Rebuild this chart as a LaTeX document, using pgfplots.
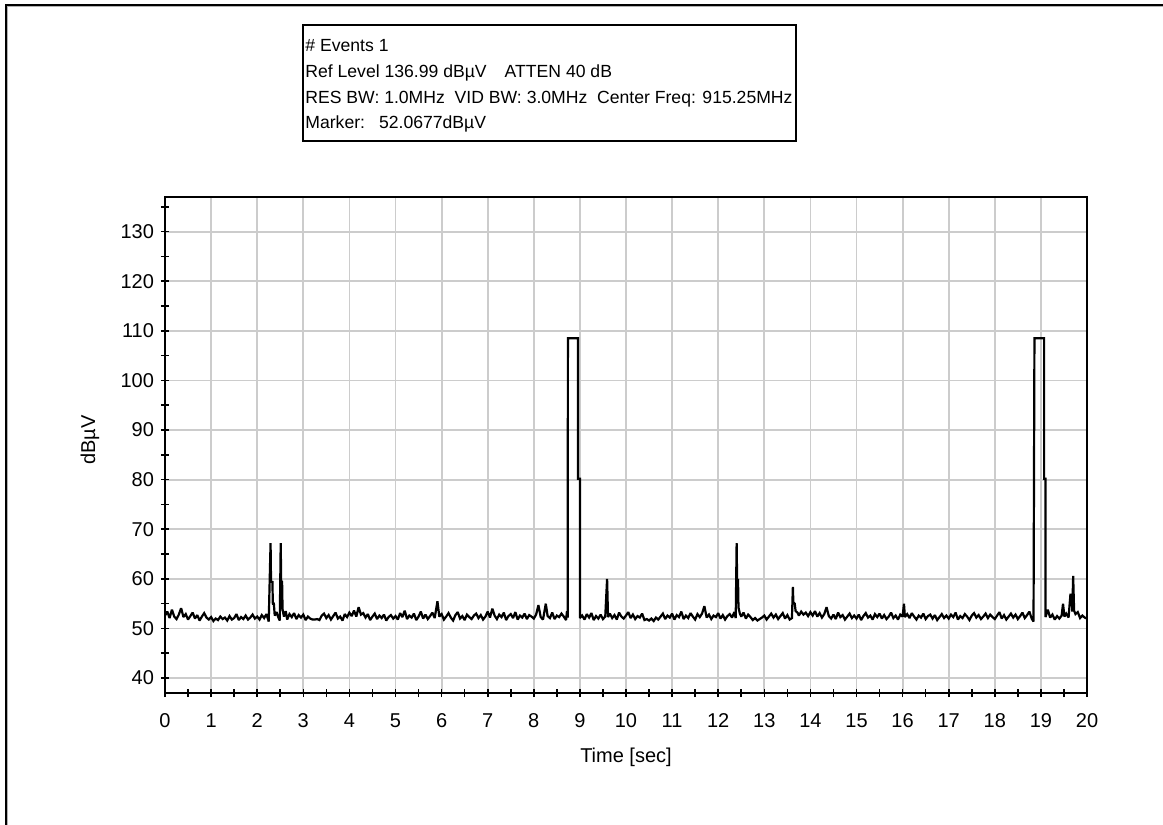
\documentclass[border=0pt]{standalone}
\usepackage{fontspec}
\setmainfont{Liberation Sans}
\usepackage{pgfplots}
\pgfplotsset{compat=1.18}
\usepackage{pgfplotstable}
\pgfplotstableread[row sep=\\]{
t v\\
0.00 52.6\\ 0.05 53.4\\ 0.10 52.1\\ 0.15 53.8\\ 0.20 52.4\\ 0.25 51.9\\ 0.30 52.8\\ 0.35 54.1\\ 0.40 52.3\\ 0.45 52.9\\
0.50 51.8\\ 0.55 52.5\\ 0.60 53.2\\ 0.65 52.0\\ 0.70 52.7\\ 0.75 51.6\\ 0.80 52.4\\ 0.85 53.1\\ 0.90 52.2\\ 0.95 51.8\\
1.00 52.3\\ 1.05 51.5\\ 1.10 52.0\\ 1.15 51.7\\ 1.20 52.4\\ 1.25 51.9\\ 1.30 52.2\\ 1.35 51.6\\ 1.40 52.5\\ 1.45 51.8\\
1.50 52.1\\ 1.55 52.9\\ 1.60 51.7\\ 1.65 52.3\\ 1.70 51.9\\ 1.75 52.6\\ 1.80 51.8\\ 1.85 52.2\\ 1.90 52.8\\ 1.95 52.0\\
2.00 52.4\\ 2.05 51.8\\ 2.10 52.7\\ 2.15 52.1\\ 2.20 52.9\\ 2.25 51.4\\ 2.29 67.2\\ 2.30 59.4\\ 2.33 59.4\\ 2.34 54.8\\
2.36 55.2\\ 2.38 52.6\\ 2.42 53.3\\ 2.46 52.2\\ 2.49 51.6\\ 2.51 67.2\\ 2.52 59.4\\ 2.54 59.4\\ 2.55 53.9\\ 2.58 52.4\\
2.62 53.5\\ 2.65 51.8\\ 2.70 52.9\\ 2.75 52.3\\ 2.80 53.1\\ 2.85 51.9\\ 2.90 52.7\\ 2.95 52.2\\
3.00 52.8\\ 3.05 51.7\\ 3.10 52.4\\ 3.15 52.0\\ 3.20 51.8\\ 3.25 51.8\\ 3.30 51.9\\ 3.35 51.7\\ 3.40 52.6\\ 3.45 53.0\\
3.50 52.1\\ 3.55 52.7\\ 3.60 51.8\\ 3.65 52.5\\ 3.70 53.2\\ 3.75 52.0\\ 3.80 52.4\\ 3.85 51.6\\ 3.90 52.9\\ 3.95 52.3\\
4.00 53.2\\ 4.05 52.5\\ 4.10 53.6\\ 4.15 52.4\\ 4.20 54.3\\ 4.25 52.8\\ 4.30 53.1\\ 4.35 52.2\\ 4.40 52.9\\ 4.45 51.7\\
4.50 52.4\\ 4.55 53.0\\ 4.60 51.9\\ 4.65 52.6\\ 4.70 52.1\\ 4.75 52.8\\ 4.80 51.6\\ 4.85 52.3\\ 4.90 52.7\\ 4.95 52.0\\
5.00 52.5\\ 5.05 51.8\\ 5.10 53.1\\ 5.15 52.3\\ 5.20 53.6\\ 5.25 51.9\\ 5.30 52.6\\ 5.35 52.2\\ 5.40 53.0\\ 5.45 51.7\\
5.50 52.4\\ 5.55 53.4\\ 5.60 52.0\\ 5.65 52.8\\ 5.70 51.9\\ 5.75 52.5\\ 5.80 53.2\\ 5.85 52.1\\ 5.91 55.5\\ 5.95 52.4\\
6.00 52.9\\ 6.05 51.8\\ 6.10 52.4\\ 6.15 53.1\\ 6.20 52.2\\ 6.25 51.6\\ 6.30 52.7\\ 6.35 53.3\\ 6.40 52.0\\ 6.45 52.5\\
6.50 51.7\\ 6.55 52.8\\ 6.60 52.3\\ 6.65 51.9\\ 6.70 52.6\\ 6.75 53.0\\ 6.80 52.1\\ 6.85 52.7\\ 6.90 51.8\\ 6.95 52.4\\
7.00 53.4\\ 7.05 52.2\\ 7.10 54.0\\ 7.15 52.6\\ 7.20 51.9\\ 7.25 52.8\\ 7.30 52.3\\ 7.35 53.2\\ 7.40 51.7\\ 7.45 52.5\\
7.50 52.9\\ 7.55 52.1\\ 7.60 53.3\\ 7.65 51.8\\ 7.70 52.6\\ 7.75 52.2\\ 7.80 53.0\\ 7.85 51.9\\ 7.90 52.7\\ 7.95 52.4\\
8.00 52.0\\ 8.05 52.8\\ 8.10 54.7\\ 8.15 52.3\\ 8.20 51.8\\ 8.26 55.0\\ 8.30 52.5\\ 8.35 52.1\\ 8.40 53.2\\ 8.45 51.9\\
8.50 52.6\\ 8.55 52.3\\ 8.60 53.0\\ 8.65 52.4\\ 8.70 51.7\\ 8.72 53.5\\ 8.735 52.2\\ 8.74 108.5\\ 8.96 108.5\\ 8.96 80.2\\
9.00 80.2\\ 9.00 52.1\\ 9.05 52.6\\ 9.10 51.8\\ 9.15 52.9\\ 9.20 52.2\\ 9.25 53.1\\ 9.30 51.7\\ 9.35 52.5\\ 9.40 52.0\\
9.45 52.8\\ 9.50 51.9\\ 9.55 52.4\\ 9.59 60.0\\ 9.61 52.3\\ 9.65 53.0\\ 9.70 52.1\\ 9.75 52.7\\ 9.80 51.8\\ 9.85 53.2\\
9.90 52.4\\ 9.95 52.0\\
10.00 52.6\\ 10.05 53.3\\ 10.10 52.1\\ 10.15 52.8\\ 10.20 51.9\\ 10.25 52.5\\ 10.30 52.2\\ 10.35 53.0\\ 10.40 51.7\\ 10.45 51.9\\
10.50 51.6\\ 10.55 52.0\\ 10.60 51.5\\ 10.65 52.2\\ 10.70 51.8\\ 10.75 52.4\\ 10.80 53.0\\ 10.85 51.9\\ 10.90 52.6\\ 10.95 52.2\\
11.00 53.0\\ 11.05 51.8\\ 11.10 52.7\\ 11.15 52.3\\ 11.20 53.4\\ 11.25 51.9\\ 11.30 52.6\\ 11.35 52.1\\ 11.40 53.1\\ 11.45 52.4\\
11.50 51.8\\ 11.55 52.9\\ 11.60 52.3\\ 11.65 53.0\\ 11.70 54.5\\ 11.75 52.2\\ 11.80 52.8\\ 11.85 51.9\\ 11.90 52.6\\ 11.95 52.3\\
12.00 53.1\\ 12.05 52.0\\ 12.10 52.7\\ 12.15 51.8\\ 12.20 52.5\\ 12.25 52.9\\ 12.30 52.2\\ 12.35 53.3\\ 12.38 52.1\\ 12.40 67.2\\
12.41 59.8\\ 12.43 59.8\\ 12.44 54.2\\ 12.47 53.0\\ 12.50 52.4\\ 12.55 53.2\\ 12.60 52.0\\ 12.65 52.8\\ 12.70 52.3\\ 12.75 51.7\\
12.80 52.1\\ 12.85 51.6\\ 12.90 51.9\\ 12.95 52.2\\
13.00 52.6\\ 13.05 51.8\\ 13.10 52.4\\ 13.15 53.0\\ 13.20 52.2\\ 13.25 52.8\\ 13.30 51.9\\ 13.35 52.5\\ 13.40 53.1\\ 13.45 52.0\\
13.50 52.7\\ 13.55 51.8\\ 13.60 52.1\\ 13.62 58.4\\ 13.63 55.3\\ 13.66 55.0\\ 13.68 53.5\\ 13.72 53.2\\ 13.75 52.6\\ 13.80 53.4\\
13.85 52.8\\ 13.90 53.2\\ 13.95 52.5\\
14.00 53.3\\ 14.05 52.6\\ 14.10 53.5\\ 14.15 52.4\\ 14.20 53.1\\ 14.25 52.2\\ 14.30 52.9\\ 14.35 54.3\\ 14.40 52.5\\ 14.45 52.0\\
14.50 52.8\\ 14.55 51.9\\ 14.60 53.2\\ 14.65 52.3\\ 14.70 52.7\\ 14.75 51.8\\ 14.80 52.4\\ 14.85 53.0\\ 14.90 52.1\\ 14.95 52.6\\
15.00 52.0\\ 15.05 52.8\\ 15.10 51.7\\ 15.15 52.5\\ 15.20 53.1\\ 15.25 52.2\\ 15.30 52.6\\ 15.35 51.8\\ 15.40 52.9\\ 15.45 52.3\\
15.50 53.0\\ 15.55 52.0\\ 15.60 52.7\\ 15.65 51.9\\ 15.70 52.4\\ 15.75 53.2\\ 15.80 52.1\\ 15.85 52.6\\ 15.90 51.8\\ 15.95 52.8\\
16.00 52.4\\ 16.03 55.0\\ 16.05 52.3\\ 16.10 52.9\\ 16.15 52.1\\ 16.20 53.1\\ 16.25 52.4\\ 16.30 51.8\\ 16.35 52.6\\ 16.40 52.2\\
16.45 53.0\\ 16.50 51.9\\ 16.55 52.5\\ 16.60 52.8\\ 16.65 52.0\\ 16.70 52.7\\ 16.75 51.7\\ 16.80 52.3\\ 16.85 52.9\\ 16.90 52.1\\
16.95 52.6\\
17.00 52.0\\ 17.05 52.8\\ 17.10 52.3\\ 17.15 53.2\\ 17.20 51.8\\ 17.25 52.5\\ 17.30 52.1\\ 17.35 52.9\\ 17.40 52.4\\ 17.45 51.7\\
17.50 52.6\\ 17.55 53.1\\ 17.60 52.2\\ 17.65 52.7\\ 17.70 51.9\\ 17.75 52.4\\ 17.80 53.0\\ 17.85 52.1\\ 17.90 52.8\\ 17.95 52.3\\
18.00 51.9\\ 18.05 52.6\\ 18.10 53.3\\ 18.15 52.0\\ 18.20 52.7\\ 18.25 51.8\\ 18.30 52.4\\ 18.35 53.0\\ 18.40 52.2\\ 18.45 52.8\\
18.50 51.9\\ 18.55 52.5\\ 18.60 53.2\\ 18.65 52.1\\ 18.70 52.7\\ 18.75 53.4\\ 18.80 52.0\\ 18.84 51.4\\ 18.86 108.5\\ 19.07 108.5\\
19.07 80.2\\ 19.10 80.2\\ 19.10 52.3\\ 19.15 53.8\\ 19.20 52.2\\ 19.25 52.8\\ 19.30 51.8\\ 19.35 52.5\\ 19.40 52.0\\ 19.45 52.6\\
19.48 55.0\\ 19.51 52.4\\ 19.55 53.0\\ 19.60 52.2\\ 19.64 56.8\\ 19.67 56.8\\ 19.68 53.4\\ 19.70 60.6\\ 19.72 53.6\\ 19.75 52.9\\
19.80 53.3\\ 19.85 52.1\\ 19.90 52.6\\ 19.95 52.2\\ 20.00 52.0\\
}\trace
\begin{document}
\begin{tikzpicture}
\path[use as bounding box] (0,0) rectangle (581.5pt,-412.5pt);
\draw[line width=1pt] (2.75pt,-412.5pt) -- (2.75pt,-2.35pt) -- (581.5pt,-2.35pt);
\draw[gray!60, line width=0.5pt] (3.75pt,-412.5pt) -- (3.75pt,-3.35pt) -- (581.5pt,-3.35pt);
\begin{axis}[
  at={(82.5pt,-346.5pt)}, anchor=south west,
  scale only axis, width=461pt, height=248pt,
  xmin=0, xmax=20, ymin=36.99, ymax=136.99,
  xtick={0,1,...,20}, ytick={40,50,...,130},
  minor xtick={0.5,1.5,...,19.5}, minor ytick={45,55,...,135},
  xtick pos=left, ytick pos=left,
  tick align=center, major tick length=4pt, minor tick length=4pt,
  tick style={black, line width=0.8pt},
  grid=major, major grid style={gray!40, line width=0.9pt},
  axis line style={line width=0.8pt},
  /pgf/number format/assume math mode=true,
  tick label style={font=\fontsize{10}{12}\selectfont},
  xticklabel style={anchor=north, text height=7.3pt, text depth=0pt, yshift=-4.5pt},
  label style={font=\fontsize{10}{12}\selectfont},
  xlabel={Time [sec]}, ylabel={dBµV},
  xlabel style={at={(axis description cs:0.5,-0.129)}, anchor=center},
  ylabel style={at={(axis description cs:-0.0813,0.51)}, anchor=center},
]
\addplot[black, line width=1.1pt, sharp plot, mark=none, line join=miter, miter limit=2] table[x=t,y=v]{\trace};
\end{axis}
\draw[line width=0.8pt] (151.5pt,-12.5pt) rectangle (398pt,-70.5pt);
\begin{scope}[every node/.style={anchor=base west, inner sep=0pt, font=\fontsize{8.8}{10}\selectfont}]
\node at (152.5pt,-25.75pt) {\# Events 1};
\node at (152.5pt,-38.5pt) {Ref Level 136.99 dBµV\hspace{9pt}ATTEN 40 dB};
\node at (152.5pt,-51.5pt) {RES BW: 1.0MHz\hspace{0.556em}VID BW: 3.0MHz\hspace{0.556em}Center Freq: 915.25MHz};
\node at (152.5pt,-64.25pt) {Marker:\hspace{7pt}52.0677dBµV};
\end{scope}
\end{tikzpicture}
\end{document}
